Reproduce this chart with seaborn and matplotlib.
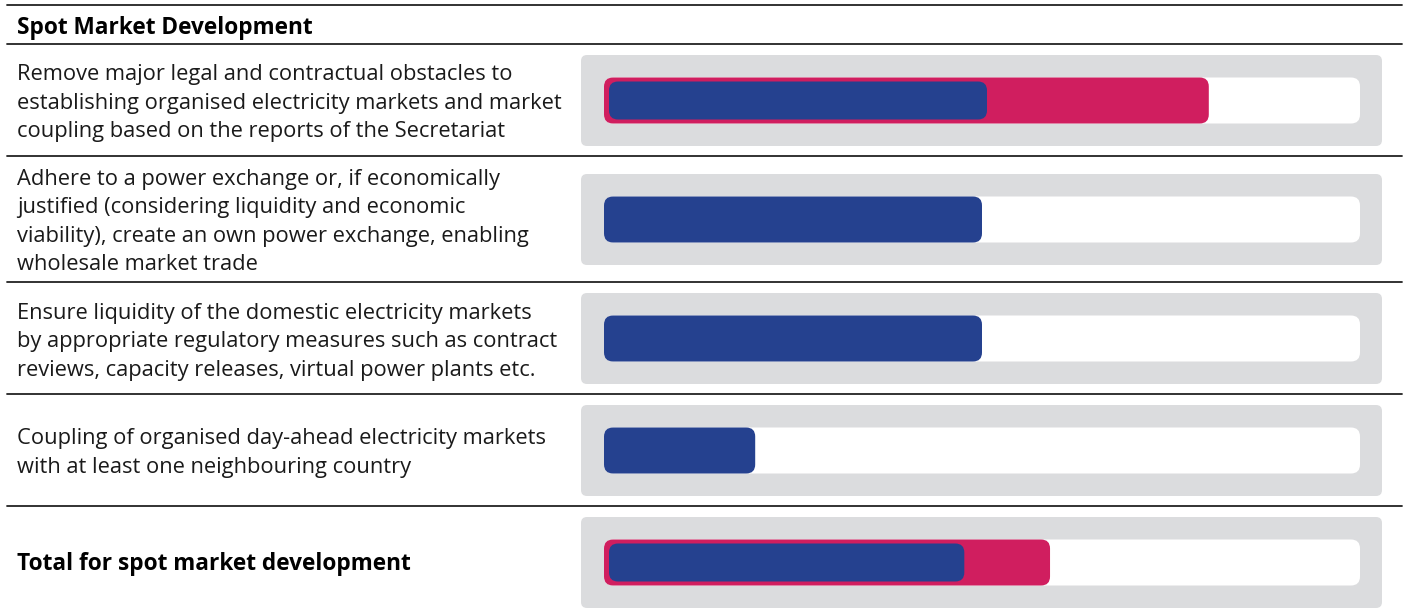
import matplotlib
matplotlib.use("Agg")
import matplotlib.pyplot as plt
import seaborn as sns
from matplotlib.patches import FancyBboxPatch
from matplotlib.lines import Line2D
from matplotlib.transforms import IdentityTransform

# ---------------- data ----------------
section_title = "Spot Market Development"
row_labels = [
    "Remove major legal and contractual obstacles to\nestablishing organised electricity markets and market\ncoupling based on the reports of the Secretariat",
    "Adhere to a power exchange or, if economically\njustified (considering liquidity and economic\nviability), create an own power exchange, enabling\nwholesale market trade",
    "Ensure liquidity of the domestic electricity markets\nby appropriate regulatory measures such as contract\nreviews, capacity releases, virtual power plants etc.",
    "Coupling of organised day-ahead electricity markets\nwith at least one neighbouring country",
    "Total for spot market development",
]
row_keys = ["r1", "r2", "r3", "r4", "total"]
bold_rows = [False, False, False, False, True]
scale_max = 100
pink_values = [80, 0, 0, 0, 59]
blue_values = [50, 50, 50, 20, 47]

# ---------------- style ----------------
GREY = "#DBDCDE"
PINK = "#D01E5F"
BLUE = "#25418F"
TEXT = "#1a1a1a"

sns.set_theme(style="white")
plt.rcParams['font.family'] = ['Open Sans', 'DejaVu Sans']

W, H = 1408, 608
fig = plt.figure(figsize=(W / 100, H / 100), dpi=100)


def fx(px):
    return px / W


def fy(py):
    return 1 - py / H


for y in [5, 44, 156, 282, 394, 506]:
    fig.add_artist(Line2D([fx(7), fx(1402)], [fy(y), fy(y)], color="#222222", lw=1.3))

FS = 15.75
FS_BOLD = 16.3
fig.text(fx(17), fy(28.5), section_title, fontweight='bold', fontsize=FS_BOLD,
         va='center', ha='left', color='black')

row_box_top = [55, 174, 293, 405, 517]
row_text_center = [103, 222, 342, 453, 564]
box_h = 91
box_left, box_right = 581, 1382
track_left, track_right = 604, 1360
track_h = 46
px_per_unit = (track_right - track_left) / scale_max


def rounded(bb, color, z, r=8, shift=0):
    return FancyBboxPatch((bb.x0 + shift, bb.y0), bb.width, bb.height,
                          boxstyle=f"round,pad=0,rounding_size={r}",
                          transform=IdentityTransform(), fc=color, ec='none', zorder=z)


for i in range(len(row_labels)):
    fig.text(fx(17), fy(row_text_center[i]), row_labels[i], va='center', ha='left',
             fontsize=FS_BOLD if bold_rows[i] else FS, linespacing=1.47,
             color='black' if bold_rows[i] else TEXT,
             fontweight='bold' if bold_rows[i] else 'normal')

    top = row_box_top[i]
    ax = fig.add_axes([fx(box_left), fy(top + box_h), (box_right - box_left) / W, box_h / H])
    ax.patch.set_visible(False)

    groups = []
    n0 = len(ax.patches)
    sns.barplot(x=[scale_max], y=[row_keys[i]], orient='h', color='white', ax=ax,
                width=0.8, saturation=1)
    groups.append(("white", ax.patches[n0:], 2, 0))
    has_pink = pink_values[i] > 0
    if has_pink:
        n0 = len(ax.patches)
        sns.barplot(x=[pink_values[i]], y=[row_keys[i]], orient='h', color=PINK, ax=ax,
                    width=0.8, saturation=1)
        groups.append((PINK, ax.patches[n0:], 3, 0))
    n0 = len(ax.patches)
    sns.barplot(x=[blue_values[i]], y=[row_keys[i]], orient='h', color=BLUE, ax=ax,
                width=0.8 * (38 / track_h) if has_pink else 0.8, saturation=1)
    groups.append((BLUE, ax.patches[n0:], 4, 5 if has_pink else 0))

    left_units = (track_left - box_left) / px_per_unit
    right_units = (box_right - track_right) / px_per_unit
    ax.set_xlim(-left_units, scale_max + right_units)
    L = 0.8 * box_h / track_h
    ax.set_ylim(L / 2, -L / 2)
    ax.axis('off')

    # grey rounded background box
    ax.add_artist(rounded(ax.bbox, GREY, 1, r=6))
    for color, plist, z, shift in groups:
        for p in plist:
            bb = p.get_window_extent()
            ax.add_artist(rounded(bb, color, z, r=9, shift=shift))
            p.remove()

fig.savefig("out.png", dpi=100, facecolor='white')
